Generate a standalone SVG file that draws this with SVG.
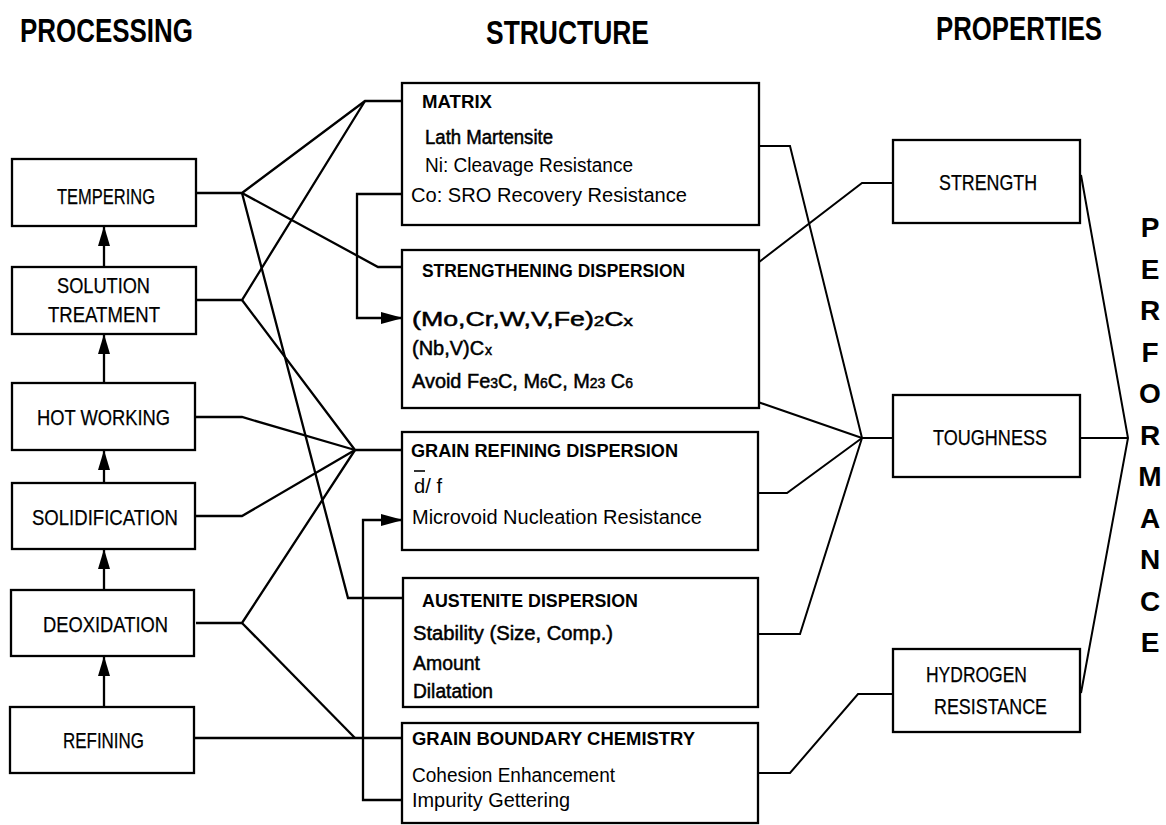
<svg xmlns="http://www.w3.org/2000/svg" width="1166" height="825" viewBox="0 0 1166 825">
<style>
  .box{fill:#fff;stroke:#000;stroke-width:2.3}
  .ln{fill:none;stroke:#000;stroke-width:2.3;stroke-linejoin:miter}
  .ln2{fill:none;stroke:#000;stroke-width:2}
  text{font-family:"Liberation Sans",Arial,sans-serif;fill:#000}
  .hdr{font-size:34px;font-weight:bold}
  .lbl{font-size:22.5px;stroke:#000;stroke-width:0.25}
  .ttl{font-size:18.5px;font-weight:bold}
  .t{font-size:20px}
  .tm{font-size:20px;stroke:#000;stroke-width:0.5}
  .sub{font-size:14px}
  .perf{font-size:28px;font-weight:bold}
</style>
<defs>
  <marker id="ahv" viewBox="0 0 20 12" refX="20" refY="6" markerWidth="20" markerHeight="12" orient="auto" markerUnits="userSpaceOnUse">
    <path d="M0,0 L20,6 L0,12 z" fill="#000"/>
  </marker>
  <marker id="ahh" viewBox="0 0 22 12" refX="22" refY="6" markerWidth="22" markerHeight="12" orient="auto" markerUnits="userSpaceOnUse">
    <path d="M0,0 L22,6 L0,12 z" fill="#000"/>
  </marker>
</defs>

<g id="headers">
  <text class="hdr" x="20" y="42" textLength="173" lengthAdjust="spacingAndGlyphs">PROCESSING</text>
  <text class="hdr" x="486" y="44" textLength="163" lengthAdjust="spacingAndGlyphs">STRUCTURE</text>
  <text class="hdr" x="936" y="40" textLength="166" lengthAdjust="spacingAndGlyphs">PROPERTIES</text>
</g>

<g id="connectors">
  <line class="ln" x1="104" y1="267" x2="104" y2="226" marker-end="url(#ahv)"/>
  <line class="ln" x1="104" y1="383" x2="104" y2="334" marker-end="url(#ahv)"/>
  <line class="ln" x1="104" y1="483" x2="104" y2="450" marker-end="url(#ahv)"/>
  <line class="ln" x1="104" y1="590" x2="104" y2="549" marker-end="url(#ahv)"/>
  <line class="ln" x1="104" y1="707" x2="104" y2="656" marker-end="url(#ahv)"/>
  <polyline class="ln" points="196,193 242,193 365,101 403,101"/>
  <polyline class="ln" points="242,193 378,267 403,267"/>
  <polyline class="ln" points="242,193 348,598 403,598"/>
  <polyline class="ln" points="196,300 242,300 365,101"/>
  <polyline class="ln" points="242,300 355,450 403,450"/>
  <polyline class="ln" points="196,417 242,417 355,450"/>
  <polyline class="ln" points="196,516 242,516 355,450"/>
  <polyline class="ln" points="196,623 242,623 355,450"/>
  <polyline class="ln" points="242,623 355,738"/>
  <line class="ln" x1="195" y1="738" x2="403" y2="738"/>
  <polyline class="ln" points="409,194 357,194 357,318 403,318" marker-end="url(#ahh)"/>
  <polyline class="ln" points="408,800 363,800 363,520 403,520" marker-end="url(#ahh)"/>
  <polyline class="ln" points="668,121 680,121 680,177 668,177"/>
  <polyline class="ln" points="631,317 643,317 643,352 631,352"/>
  <polyline class="ln2" points="680,146 790,146 862,438 893,438"/>
  <polyline class="ln2" points="643,328 673,328 862,183 893,183"/>
  <polyline class="ln2" points="654,382 700,382 862,438"/>
  <polyline class="ln2" points="758,493 787,493 862,438"/>
  <polyline class="ln2" points="758,634 800,634 862,438"/>
  <polyline class="ln2" points="758,773 790,773 858,694 893,694"/>
  <polyline class="ln2" points="1081,175 1128,438 1081,693"/>
  <line class="ln2" x1="1080" y1="438" x2="1128" y2="438"/>
</g>

<g id="tempering">
  <rect class="box" x="12" y="159" width="184" height="67"/>
  <text class="lbl" x="57" y="204" textLength="98" lengthAdjust="spacingAndGlyphs">TEMPERING</text>
</g>
<g id="solution-treatment">
  <rect class="box" x="12" y="267" width="184" height="67"/>
  <text class="lbl" x="57" y="293" textLength="93" lengthAdjust="spacingAndGlyphs">SOLUTION</text>
  <text class="lbl" x="48" y="322" textLength="112" lengthAdjust="spacingAndGlyphs">TREATMENT</text>
</g>
<g id="hot-working">
  <rect class="box" x="12" y="383" width="183" height="67"/>
  <text class="lbl" x="37" y="425" textLength="133" lengthAdjust="spacingAndGlyphs">HOT WORKING</text>
</g>
<g id="solidification">
  <rect class="box" x="12" y="483" width="183" height="66"/>
  <text class="lbl" x="32" y="525" textLength="146" lengthAdjust="spacingAndGlyphs">SOLIDIFICATION</text>
</g>
<g id="deoxidation">
  <rect class="box" x="11" y="590" width="183" height="66"/>
  <text class="lbl" x="43" y="632" textLength="125" lengthAdjust="spacingAndGlyphs">DEOXIDATION</text>
</g>
<g id="refining">
  <rect class="box" x="10" y="707" width="184" height="66"/>
  <text class="lbl" x="63" y="748" textLength="81" lengthAdjust="spacingAndGlyphs">REFINING</text>
</g>

<g id="matrix">
  <rect class="box" x="402" y="83" width="357" height="142"/>
  <text class="ttl" x="422" y="108" textLength="70" lengthAdjust="spacingAndGlyphs">MATRIX</text>
  <text class="tm" x="425" y="144" textLength="128" lengthAdjust="spacingAndGlyphs">Lath Martensite</text>
  <text class="t" x="425" y="172" textLength="208" lengthAdjust="spacingAndGlyphs">Ni: Cleavage Resistance</text>
  <text class="t" x="411" y="202" textLength="276" lengthAdjust="spacingAndGlyphs">Co: SRO Recovery Resistance</text>
</g>
<g id="strengthening-dispersion">
  <rect class="box" x="402" y="250" width="357" height="158"/>
  <text class="ttl" x="422" y="277" textLength="263" lengthAdjust="spacingAndGlyphs">STRENGTHENING DISPERSION</text>
  <text class="tm" x="412" y="326" textLength="221" lengthAdjust="spacingAndGlyphs">(Mo,Cr,W,V,Fe)<tspan class="sub">2</tspan>C<tspan class="sub">x</tspan></text>
  <text class="tm" x="412" y="355">(Nb,V)C<tspan class="sub" x="485">x</tspan></text>
  <text class="tm" x="412" y="388" textLength="221" lengthAdjust="spacingAndGlyphs">Avoid Fe<tspan class="sub">3</tspan>C, M<tspan class="sub">6</tspan>C, M<tspan class="sub">23</tspan> C<tspan class="sub">6</tspan></text>
</g>
<g id="grain-refining-dispersion">
  <rect class="box" x="402" y="432" width="356" height="118"/>
  <text class="ttl" x="411" y="457" textLength="267" lengthAdjust="spacingAndGlyphs">GRAIN REFINING DISPERSION</text>
  <line x1="414" y1="471" x2="425" y2="471" stroke="#000" stroke-width="1.6"/>
  <text class="t" x="414" y="493" textLength="28" lengthAdjust="spacingAndGlyphs">d/ f</text>
  <text class="t" x="412" y="524" textLength="290" lengthAdjust="spacingAndGlyphs">Microvoid Nucleation Resistance</text>
</g>
<g id="austenite-dispersion">
  <rect class="box" x="403" y="578" width="355" height="129"/>
  <text class="ttl" x="422" y="607" textLength="216" lengthAdjust="spacingAndGlyphs">AUSTENITE DISPERSION</text>
  <text class="tm" x="413" y="640" textLength="200" lengthAdjust="spacingAndGlyphs">Stability (Size, Comp.)</text>
  <text class="tm" x="413" y="670" textLength="67" lengthAdjust="spacingAndGlyphs">Amount</text>
  <text class="tm" x="413" y="698" textLength="80" lengthAdjust="spacingAndGlyphs">Dilatation</text>
</g>
<g id="grain-boundary-chemistry">
  <rect class="box" x="402" y="723" width="356" height="100"/>
  <text class="ttl" x="412" y="745" textLength="283" lengthAdjust="spacingAndGlyphs">GRAIN BOUNDARY CHEMISTRY</text>
  <text class="t" x="412" y="782" textLength="203" lengthAdjust="spacingAndGlyphs">Cohesion Enhancement</text>
  <text class="t" x="412" y="807" textLength="158" lengthAdjust="spacingAndGlyphs">Impurity Gettering</text>
</g>

<g id="strength">
  <rect class="box" x="893" y="140" width="187" height="83"/>
  <text class="lbl" x="939" y="190" textLength="98" lengthAdjust="spacingAndGlyphs">STRENGTH</text>
</g>
<g id="toughness">
  <rect class="box" x="893" y="395" width="187" height="82"/>
  <text class="lbl" x="933" y="445" textLength="114" lengthAdjust="spacingAndGlyphs">TOUGHNESS</text>
</g>
<g id="hydrogen-resistance">
  <rect class="box" x="893" y="649" width="187" height="83"/>
  <text class="lbl" x="926" y="682" textLength="101" lengthAdjust="spacingAndGlyphs">HYDROGEN</text>
  <text class="lbl" x="934" y="714" textLength="113" lengthAdjust="spacingAndGlyphs">RESISTANCE</text>
</g>

<g id="performance" text-anchor="middle">
  <text class="perf" x="1150" y="237">P</text>
  <text class="perf" x="1150" y="278.5">E</text>
  <text class="perf" x="1150" y="320">R</text>
  <text class="perf" x="1150" y="361.5">F</text>
  <text class="perf" x="1150" y="403">O</text>
  <text class="perf" x="1150" y="444.5">R</text>
  <text class="perf" x="1150" y="486">M</text>
  <text class="perf" x="1150" y="527.5">A</text>
  <text class="perf" x="1150" y="569">N</text>
  <text class="perf" x="1150" y="610.5">C</text>
  <text class="perf" x="1150" y="652">E</text>
</g>
</svg>
